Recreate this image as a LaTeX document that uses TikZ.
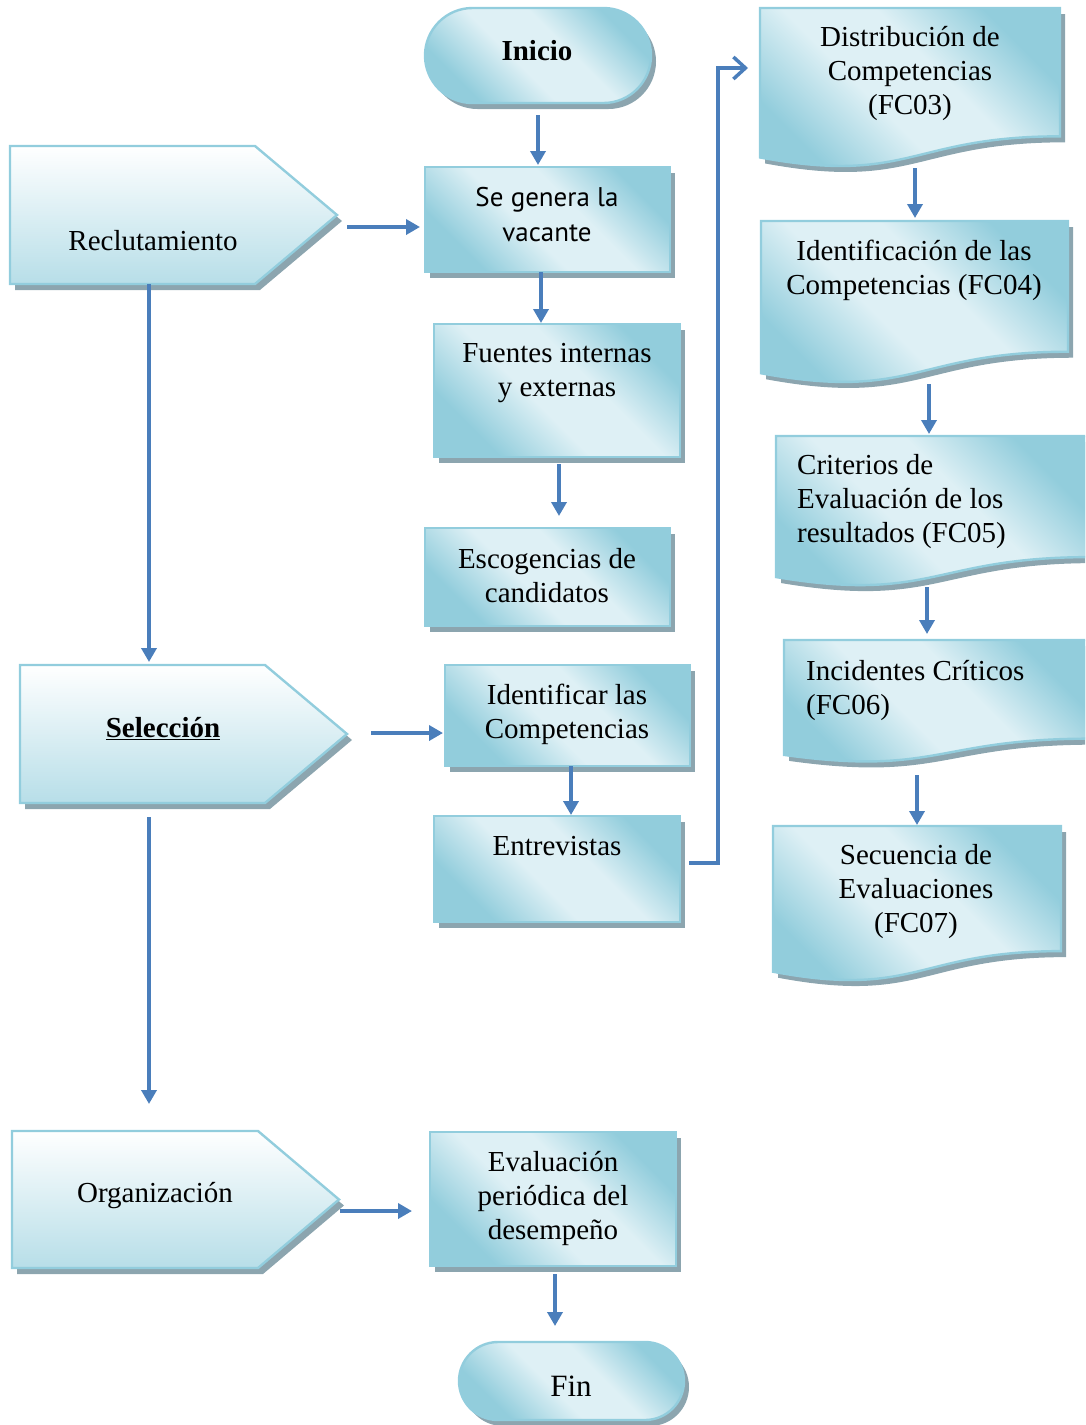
\documentclass[tikz,border=0pt]{standalone}
\usepackage{fontspec}
\setmainfont{Liberation Serif}
\newfontfamily\vacfont{PT Sans}
\usetikzlibrary{calc,shapes.misc,shadows,arrows.meta}
\definecolor{bordc}{RGB}{146,205,221}
\definecolor{dkc}{RGB}{146,205,220}
\definecolor{ltc}{RGB}{222,240,245}
\definecolor{pbot}{RGB}{183,222,232}
\definecolor{shc}{RGB}{140,165,175}
\definecolor{arrc}{RGB}{74,126,187}
\pgfdeclarehorizontalshading{diagsh}{100bp}{color(0bp)=(dkc); color(27bp)=(dkc); color(44bp)=(ltc); color(58bp)=(ltc); color(74bp)=(dkc); color(100bp)=(dkc)}
\tikzset{
  shapebase/.style={draw=bordc, line width=2.4pt, drop shadow={shadow xshift=5pt, shadow yshift=-6pt, fill=shc, opacity=1}},
  diagfill/.style={shade, shading=diagsh, shading angle=45},
  vfill/.style={top color=white, bottom color=pbot},
  frame/.style={rectangle, inner sep=0pt, outer sep=0pt, draw=none, anchor=north west},
  procbox/.style={rectangle, shapebase, diagfill, inner sep=0pt, outer sep=0pt, anchor=north west},
  termbox/.style={rounded rectangle, shapebase, diagfill, inner sep=0pt, outer sep=0pt, anchor=north},
  txt/.style={font=\fontsize{29}{34}\selectfont, align=center, inner sep=0pt},
  arr/.style={draw=arrc, line width=3.5pt, -{Triangle[width=15pt,length=14pt]}},
  openarr/.style={draw=arrc, line width=3.5pt, -{Straight Barb[width=22pt,length=12pt]}},
}
\newcommand{\pentpath}[2]{%
  \path[shapebase, vfill] (#1.north west) -- ([xshift=-#2pt]#1.north east) -- (#1.east) -- ([xshift=-#2pt]#1.south east) -- (#1.south west) -- cycle;}
\newcommand{\docpath}[1]{%
  \path[shapebase, diagfill] (#1.north west) -- (#1.north east) -- ($(#1.north east)!0.802!(#1.south east)$) .. controls ($(#1.north)!0.802!(#1.south)$) and ($(#1.north)!1.1075!(#1.south)$) .. ($(#1.north west)!0.934!(#1.south west)$) -- cycle;}
\begin{document}
\begin{tikzpicture}[x=1pt,y=-1pt]
\useasboundingbox (0,0) rectangle (1085,1425);
\clip (0,0) rectangle (1085,1425);

% terminals and process boxes
\node[termbox, minimum width=226pt, minimum height=95pt] (inicio) at (538,8) {};
\node[procbox, minimum width=245pt, minimum height=105pt] (sg) at (425,167) {};
\node[procbox, minimum width=246pt, minimum height=133pt] (fu) at (434,324) {};
\node[procbox, minimum width=245pt, minimum height=98pt] (esc) at (425,528) {};
\node[procbox, minimum width=245pt, minimum height=101pt] (idc) at (445,665) {};
\node[procbox, minimum width=246pt, minimum height=106pt] (ent) at (434,816) {};
\node[procbox, minimum width=246pt, minimum height=134pt] (ev) at (430,1132) {};
\node[termbox, minimum width=225pt, minimum height=78pt] (fin) at (571.5,1342) {};

% pentagons
\node[frame, minimum width=327pt, minimum height=138pt] (rec) at (10,146) {};
\node[frame, minimum width=327pt, minimum height=138pt] (sel) at (20,665) {};
\node[frame, minimum width=327pt, minimum height=137pt] (org) at (12,1131) {};
\pentpath{rec}{82}
\pentpath{sel}{82}
\pentpath{org}{81}

% documents
\node[frame, minimum width=300pt, minimum height=160pt] (fc03) at (760,8) {};
\node[frame, minimum width=307pt, minimum height=163pt] (fc04) at (761,221) {};
\node[frame, minimum width=314pt, minimum height=151pt] (fc05) at (776,436) {};
\node[frame, minimum width=306pt, minimum height=123pt] (fc06) at (784,640) {};
\node[frame, minimum width=288pt, minimum height=156pt] (fc07) at (773,826) {};
\docpath{fc03}
\docpath{fc04}
\docpath{fc05}
\docpath{fc06}
\docpath{fc07}

% texts
\node[txt] (tinicio) at (537,51) {\textbf{Inicio}};
\node[txt, font=\vacfont\fontsize{27}{35}\selectfont] (tsg) at (547,215) {Se genera la\\vacante};
\node[txt] (tfu) at (557,373) {Fuentes internas\\y externas};
\node[txt] (tesc) at (547,576) {Escogencias de\\candidatos};
\node[txt] (tidc) at (567,714) {Identificar las\\Competencias};
\node[txt] (tent) at (557,846) {Entrevistas};
\node[txt] (tev) at (553,1198) {Evaluación\\periódica del\\desempeño};
\node[txt, font=\fontsize{31}{34}\selectfont] (tfin) at (571,1386) {Fin};
\node[txt] (trec) at (153,241) {Reclutamiento};
\node[txt] (tsel) at (163,729) {\textbf{\underline{Selección}}};
\node[txt] (torg) at (155,1196) {Organización};
\node[txt] (tfc03) at (910,73) {Distribución de\\Competencias\\(FC03)};
\node[txt] (tfc04) at (914,270) {Identificación de las\\Competencias (FC04)};
\node[txt, align=left, anchor=west] (tfc05) at (797,502) {Criterios de\\Evaluación de los\\resultados (FC05)};
\node[txt, align=left, anchor=west] (tfc06) at (806,690) {Incidentes Críticos\\(FC06)};
\node[txt] (tfc07) at (916,892) {Secuencia de\\Evaluaciones\\(FC07)};

% connectors
\draw[arr, shorten <=12pt, shorten >=2pt] (inicio.south) -- (inicio.south |- sg.north);
\draw[arr, shorten <=10pt, shorten >=5pt] ([yshift=-12pt]rec.east) -- ([yshift=-12pt]rec.east -| sg.west);
\draw[arr, shorten >=1pt] ([xshift=-6.5pt]sg.south) -- ([xshift=-6.5pt]sg.south |- fu.north);
\draw[arr, shorten <=7pt, shorten >=12pt] ([xshift=2pt]fu.south) -- ([xshift=2pt]fu.south |- esc.north);
\draw[arr, shorten >=3pt] ([xshift=-24.5pt]rec.south) -- ([xshift=-24.5pt]rec.south |- sel.north);
\draw[arr, shorten <=24pt, shorten >=2pt] ([yshift=1pt]sel.east) -- ([yshift=1pt]sel.east -| idc.west);
\draw[arr, shorten >=1pt] ([xshift=3.5pt]idc.south) -- ([xshift=3.5pt]idc.south |- ent.north);
\draw[openarr, shorten <=9pt] ([yshift=6pt]ent.east) -- ++(38,0) |- ([shift={(-12pt,20pt)}]fc03.west);
\draw[arr, shorten >=3pt] ([xshift=5pt]fc03.south) -- ([xshift=5pt]fc03.south |- fc04.north);
\draw[arr, shorten >=2pt] ([xshift=14.5pt]fc04.south) -- ([xshift=14.5pt]fc04.south |- fc05.north);
\draw[arr, shorten >=6pt] ([xshift=-6pt]fc05.south) -- ([xshift=-6pt]fc05.south |- fc06.north);
\draw[arr, shorten <=12pt, shorten >=1pt] ([xshift=-20pt]fc06.south) -- ([xshift=-20pt]fc06.south |- fc07.north);
\draw[arr, shorten <=14pt, shorten >=27pt] ([xshift=-34.5pt]sel.south) -- ([xshift=-34.5pt]sel.south |- org.north);
\draw[arr, shorten <=1pt, shorten >=18pt] ([yshift=-11.5pt]org.east) -- ([yshift=-11.5pt]org.east -| ev.west);
\draw[arr, shorten <=8pt, shorten >=16pt] ([xshift=2pt]ev.south) -- ([xshift=2pt]ev.south |- fin.north);
\end{tikzpicture}
\end{document}
